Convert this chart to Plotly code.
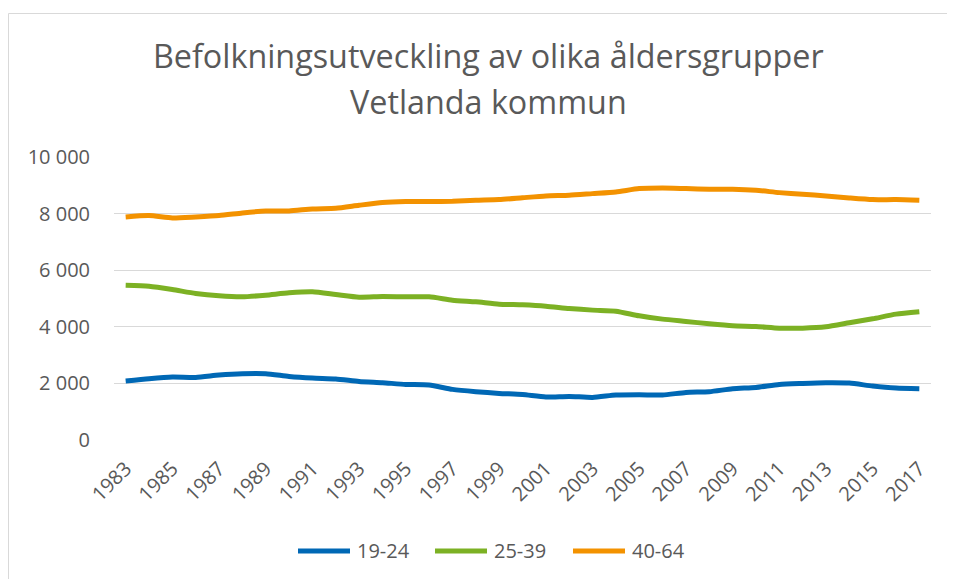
import plotly.graph_objects as go

years = list(range(1983, 2018))
age_19_24 = [2083, 2165, 2224, 2212, 2294, 2341, 2341, 2247, 2188, 2153, 2071, 2024, 1965, 1941,
             1788, 1706, 1647, 1605, 1518, 1541, 1506, 1588, 1600, 1588, 1682, 1706, 1812, 1859,
             1965, 2000, 2024, 2012, 1906, 1835, 1812]
age_25_39 = [5471, 5435, 5318, 5177, 5094, 5059, 5118, 5200, 5236, 5141, 5047, 5071, 5059, 5059,
             4942, 4883, 4800, 4777, 4730, 4647, 4589, 4553, 4388, 4271, 4189, 4106, 4035, 4012,
             3953, 3953, 4000, 4141, 4282, 4447, 4529]
age_40_64 = [7882, 7929, 7847, 7882, 7929, 8023, 8094, 8094, 8165, 8188, 8294, 8390, 8424, 8424,
             8436, 8471, 8494, 8560, 8624, 8647, 8706, 8765, 8883, 8906, 8883, 8859, 8859, 8824,
             8741, 8683, 8624, 8553, 8494, 8494, 8471]
series_names = ["19-24", "25-39", "40-64"]
series_colors = ["#0068B5", "#7CB124", "#F39200"]
y_tickvals = [0, 2000, 4000, 6000, 8000, 10000]
y_ticktext = ["0", "2 000", "4 000", "6 000", "8 000", "10 000"]
x_tickvals = list(range(1983, 2018, 2))
title_lines = ["Befolkningsutveckling av olika åldersgrupper", "Vetlanda kommun"]

FONT = "'Open Sans', 'Noto Sans', sans-serif"
GRAY = "#595959"

# page body has an 8px margin; figure drawn 8px smaller and coordinates shifted
OFF = 8
W, H = 955 - OFF, 579 - OFF
L, R, T, B = 114 - OFF, 24, 157 - OFF, 139
ph = H - T - B
pw = W - L - R


def py(p):
    """screen pixel y -> paper y"""
    return (H - B - (p - OFF)) / ph


def px(p):
    """screen pixel x -> paper x"""
    return (p - OFF - L) / pw


fig = go.Figure()
for name, vals, col in zip(series_names, [age_19_24, age_25_39, age_40_64], series_colors):
    fig.add_trace(go.Scatter(x=years, y=vals, name=name, mode="lines", showlegend=False,
                             line=dict(color=col, width=5, shape="spline", smoothing=0.6)))

shapes = [dict(type="rect", xref="paper", yref="paper",
               x0=px(8.5), x1=px(1000), y0=py(700), y1=py(13.5),
               line=dict(color="#D9D9D9", width=1), fillcolor="rgba(0,0,0,0)", layer="below")]
annotations = [
    dict(text=title_lines[0], xref="paper", yref="paper", x=px(488), y=py(55),
         xanchor="center", yanchor="middle", showarrow=False,
         font=dict(size=32.3, color=GRAY, family=FONT)),
    dict(text=title_lines[1], xref="paper", yref="paper", x=px(488), y=py(101),
         xanchor="center", yanchor="middle", showarrow=False,
         font=dict(size=32.3, color=GRAY, family=FONT)),
]

# custom legend (long line samples like the original)
legend_x = [296, 433, 571]
legend_y = 551
for lx, name, col in zip(legend_x, series_names, series_colors):
    shapes.append(dict(type="line", xref="paper", yref="paper",
                       x0=px(lx + 2), x1=px(lx + 54), y0=py(legend_y), y1=py(legend_y),
                       line=dict(color=col, width=5)))
    annotations.append(dict(text=name, xref="paper", yref="paper", x=px(lx + 59), y=py(legend_y - 1),
                            xanchor="left", yanchor="middle", showarrow=False,
                            font=dict(size=20, color=GRAY, family=FONT)))

fig.update_layout(
    width=W, height=H,
    margin=dict(l=L, r=R, t=T, b=B),
    paper_bgcolor="white", plot_bgcolor="white",
    font=dict(family=FONT, color=GRAY, size=18),
    showlegend=False,
    xaxis=dict(range=[1982.5, 2017.5], tickvals=x_tickvals, tickangle=-45,
               showgrid=False, zeroline=False, showline=False, ticks="",
               tickfont=dict(size=20, color=GRAY), ticklabelstandoff=12),
    yaxis=dict(range=[0, 10000], tickvals=y_tickvals, ticktext=y_ticktext,
               showgrid=True, gridcolor="#D9D9D9", gridwidth=1.3, zeroline=False,
               showline=False, ticks="", tickfont=dict(size=20, color=GRAY),
               ticklabelstandoff=23),
    shapes=shapes,
    annotations=annotations,
)

fig.write_html("out.html")
